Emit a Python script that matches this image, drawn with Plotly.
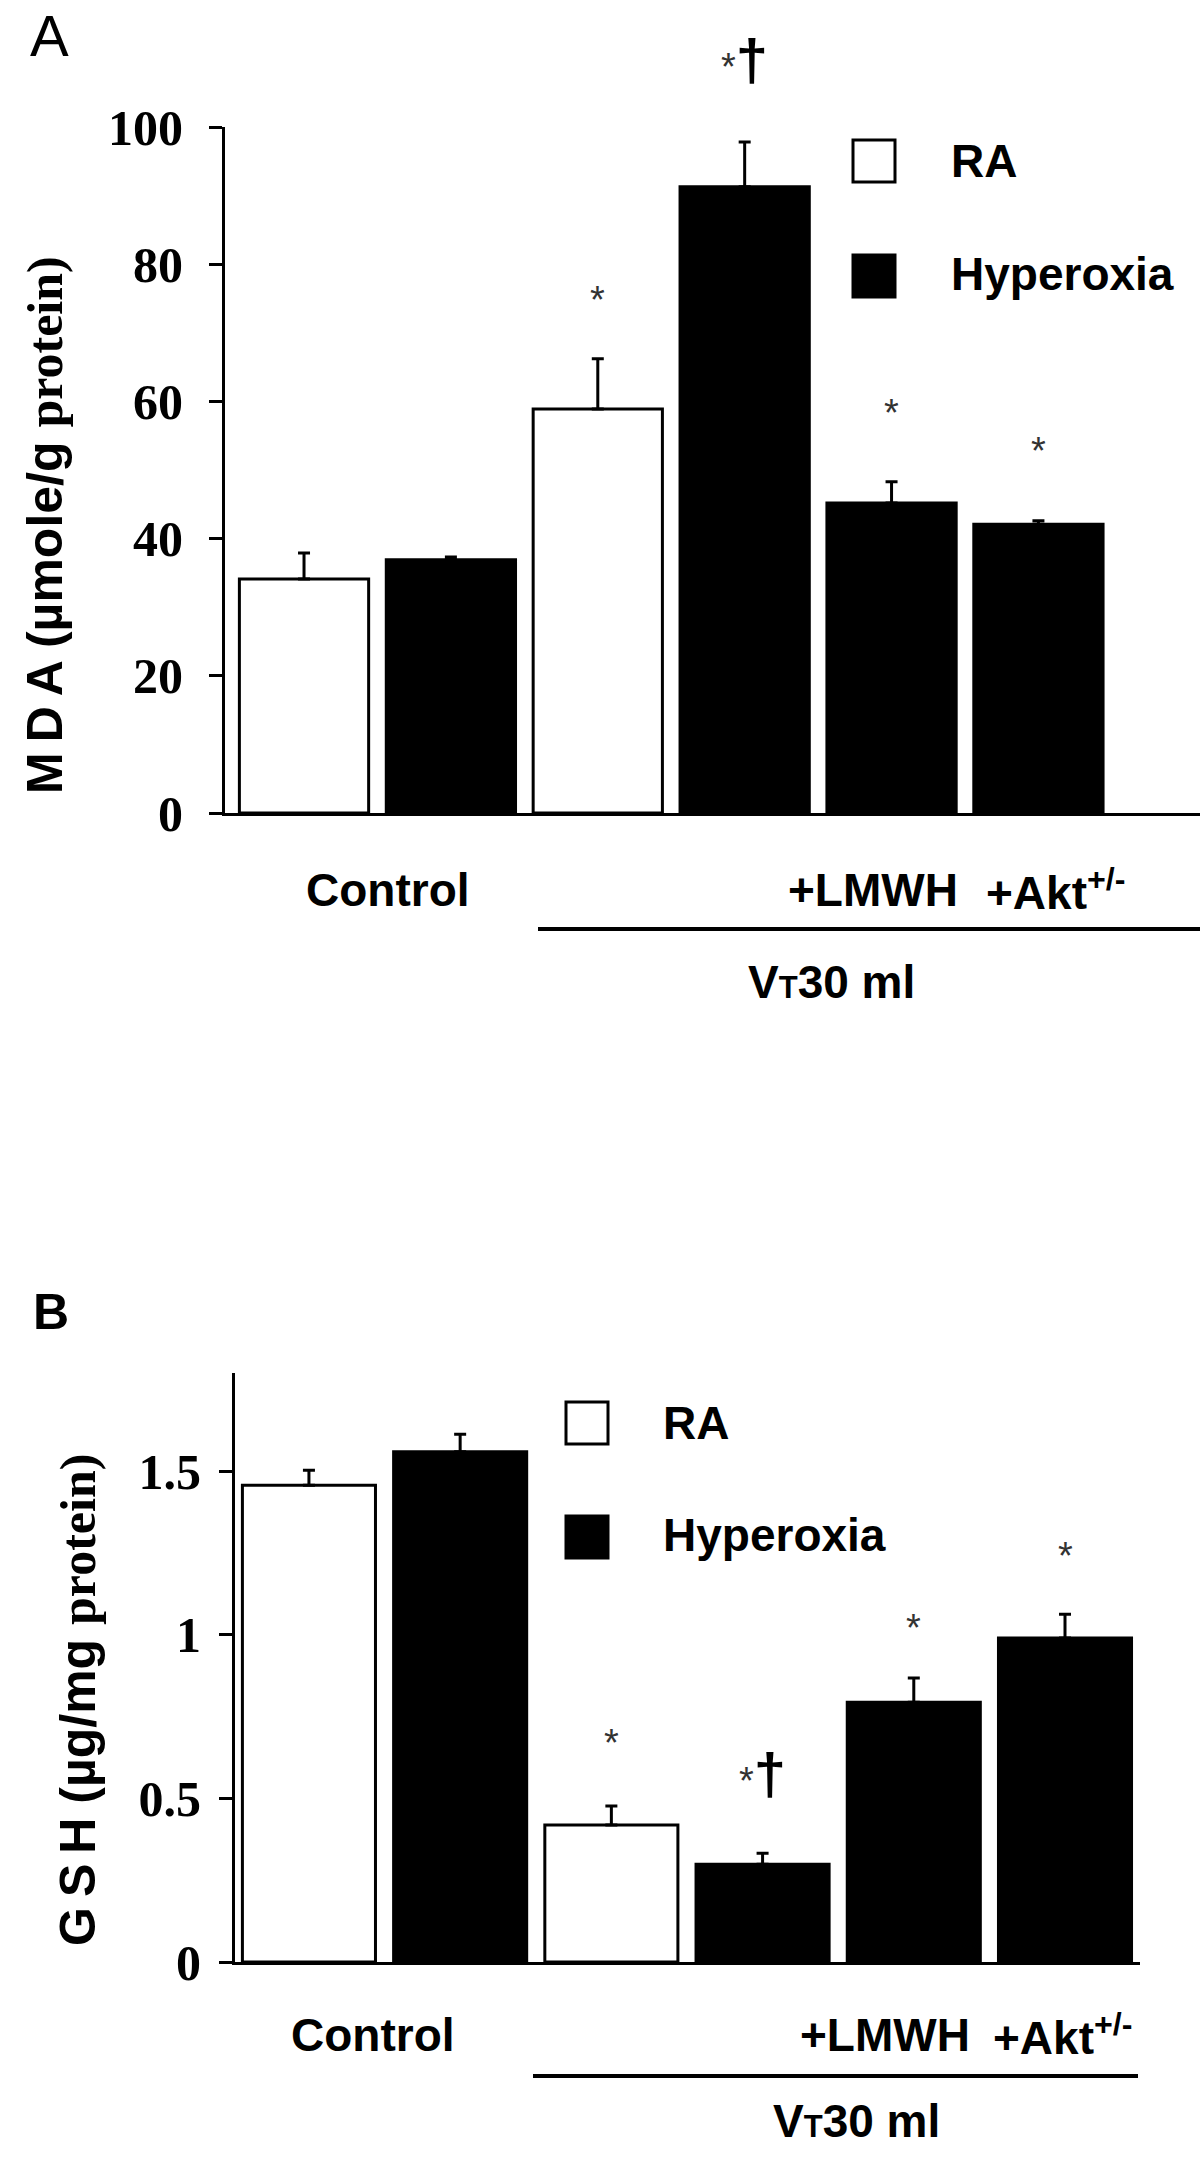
import plotly.graph_objects as go

# %%
# Groups (x categories), shared by both panels
groups = ["Control RA", "Control Hyperoxia", "VT30 RA", "VT30 Hyperoxia",
          "VT30+LMWH Hyperoxia", "VT30+Akt Hyperoxia"]
ra_groups = ["Control RA", "VT30 RA"]
hy_groups = ["Control Hyperoxia", "VT30 Hyperoxia", "VT30+LMWH Hyperoxia", "VT30+Akt Hyperoxia"]

# Panel A: MDA (umole/g protein), mean and upper SEM
mda_ra = [34.1, 58.9]
mda_ra_err = [3.8, 7.3]
mda_hy = [36.9, 91.3, 45.2, 42.1]
mda_hy_err = [0.4, 6.5, 3.1, 0.5]

# Panel B: GSH (ug/mg protein)
gsh_ra = [1.457, 0.419]
gsh_ra_err = [0.046, 0.058]
gsh_hy = [1.559, 0.299, 0.794, 0.990]
gsh_hy_err = [0.054, 0.033, 0.074, 0.073]

# significance marks: (group, y in axis units)
mda_star = [("VT30 RA", 75.9), ("VT30+LMWH Hyperoxia", 59.5), ("VT30+Akt Hyperoxia", 53.9)]
mda_dagger = [("VT30 Hyperoxia", 109.8)]
gsh_star = [("VT30 RA", 0.694), ("VT30+LMWH Hyperoxia", 1.045), ("VT30+Akt Hyperoxia", 1.265)]
gsh_dagger = [("VT30 Hyperoxia", 0.575)]

mda_ticks = [0, 20, 40, 60, 80, 100]
gsh_ticks = [0, 0.5, 1, 1.5]
gsh_ticktext = ["0", "0.5", "1", "1.5"]

# %%
W, H = 1200, 2168
SANS = "Liberation Sans, Arial, sans-serif"
SERIF = "Liberation Serif, Times New Roman, serif"

# pixel frames of the two panels (top, bottom of y axis)
A_TOP, A_BOT, A_MAX = 127, 813, 100
B_TOP, B_BOT, B_MAX = 1373, 1962, 1.80


def px(x):
    return x / W


def py(y):
    return 1 - y / H


fig = go.Figure()

bar_w = 0.88
err_style = dict(type="data", symmetric=False, thickness=3, width=6, color="black")

for xa, ya, ra, ra_e, hy, hy_e in [("x", "y", mda_ra, mda_ra_err, mda_hy, mda_hy_err),
                                   ("x2", "y2", gsh_ra, gsh_ra_err, gsh_hy, gsh_hy_err)]:
    fig.add_trace(go.Bar(x=ra_groups, y=ra, width=bar_w, name="RA",
                         marker=dict(color="white", line=dict(color="black", width=3)),
                         error_y=dict(array=ra_e, arrayminus=[0] * len(ra), **err_style),
                         xaxis=xa, yaxis=ya, showlegend=False))
    fig.add_trace(go.Bar(x=hy_groups, y=hy, width=bar_w, name="Hyperoxia",
                         marker=dict(color="black", line=dict(color="black", width=3)),
                         error_y=dict(array=hy_e, arrayminus=[0] * len(hy), **err_style),
                         xaxis=xa, yaxis=ya, showlegend=False))

xcommon = dict(type="category", categoryorder="array", categoryarray=groups,
               showline=True, linewidth=3, linecolor="black", showticklabels=False,
               ticks="", showgrid=False, zeroline=False, automargin=False)
ycommon = dict(showline=True, linewidth=3, linecolor="black", ticks="outside",
               ticklen=13, tickwidth=3, tickcolor="black", showgrid=False, zeroline=False,
               automargin=False,
               tickfont=dict(family=SERIF, size=50, color="black", weight="bold"))

fig.update_layout(
    template="none",
    width=W, height=H, margin=dict(l=0, r=0, t=0, b=0, pad=0), autosize=False,
    paper_bgcolor="white", plot_bgcolor="white", barmode="overlay", showlegend=False,
    xaxis=dict(domain=[px(225), px(1200)], range=[-0.538, 6.10], anchor="y", **xcommon),
    yaxis=dict(domain=[py(A_BOT), py(A_TOP)], range=[0, A_MAX], tickvals=mda_ticks,
               ticklabelstandoff=16, anchor="x", **ycommon),
    xaxis2=dict(domain=[px(235), px(1140)], range=[-0.489, 5.496], anchor="y2", **xcommon),
    yaxis2=dict(domain=[py(B_BOT), py(B_TOP)], range=[0, B_MAX], tickvals=gsh_ticks,
                ticktext=gsh_ticktext, ticklabelstandoff=8, anchor="x2", **ycommon),
)

ann = []


def text(x, y, s, size=46, xanchor="center", weight="bold", family=SANS, angle=0):
    ann.append(dict(x=px(x), y=py(y), xref="paper", yref="paper", text=s, showarrow=False,
                    xanchor=xanchor, yanchor="middle", textangle=angle,
                    font=dict(family=family, size=size, color="black", weight=weight)))


# panel letters
text(49, 36, "A", size=58, weight="normal")
text(51, 1312, "B", size=50, weight="bold")

# y titles
serif_span = "<span style='font-family:Liberation Serif'>protein)</span>"
text(45, 525, "M\u2009D\u2009A (µmole/g " + serif_span, size=50, angle=-90)
text(78, 1700, "G\u2009S\u2009H (µg/mg " + serif_span, size=50, angle=-90)

# x group labels
vt = "V<span style='font-size:31px'>T</span>30 ml"
for yl, yv, cx, lx, ax, vx, line_x0, line_x1, line_y in [
        (890, 982, 388, 873, 984, 831, 538, 1200, 929),
        (2035, 2121, 373, 885, 991, 856, 533, 1138, 2076)]:
    text(cx, yl, "Control")
    text(lx, yl, "+LMWH")
    text(ax, yl, "+Akt<sup>+/-</sup>", xanchor="left")
    text(vx, yv, vt)
    fig.add_shape(type="line", xref="paper", yref="paper", x0=px(line_x0), x1=px(line_x1),
                  y0=py(line_y), y1=py(line_y), line=dict(color="black", width=4))

# legends
for bx, by_ra, by_hy, tx in [(853, 140, 255, 949), (566, 1402, 1516, 661)]:
    fig.add_shape(type="rect", xref="paper", yref="paper", x0=px(bx), x1=px(bx + 42),
                  y0=py(by_ra + 42), y1=py(by_ra), fillcolor="white",
                  line=dict(color="black", width=3))
    fig.add_shape(type="rect", xref="paper", yref="paper", x0=px(bx), x1=px(bx + 42),
                  y0=py(by_hy + 42), y1=py(by_hy), fillcolor="black",
                  line=dict(color="black", width=3))
    text(tx, by_ra + 21, "RA", xanchor="left")
    text(tx, by_hy + 19, "Hyperoxia", xanchor="left")

# significance marks (paper y so marks above the axis range still show)
for xr, top, bot, vmax, stars, daggers in [("x", A_TOP, A_BOT, A_MAX, mda_star, mda_dagger),
                                           ("x2", B_TOP, B_BOT, B_MAX, gsh_star, gsh_dagger)]:
    def to_paper(v):
        return py(bot - v / vmax * (bot - top))
    for g, yv in stars:
        ann.append(dict(x=g, y=to_paper(yv), xref=xr, yref="paper", text="*", showarrow=False,
                        yanchor="middle", yshift=-8,
                        font=dict(family=SANS, size=38, color="#333333")))
    for g, yv in daggers:
        ann.append(dict(x=g, y=to_paper(yv), xref=xr, yref="paper",
                        text="<span style='font-size:38px;font-weight:normal;fill:#333'>*</span>†",
                        showarrow=False, yanchor="middle",
                        font=dict(family=SANS, size=58, color="black", weight="bold")))

fig.update_layout(annotations=ann)

fig.write_html("out.html", config={"displayModeBar": False},
               post_script="document.body.style.margin='0';")
